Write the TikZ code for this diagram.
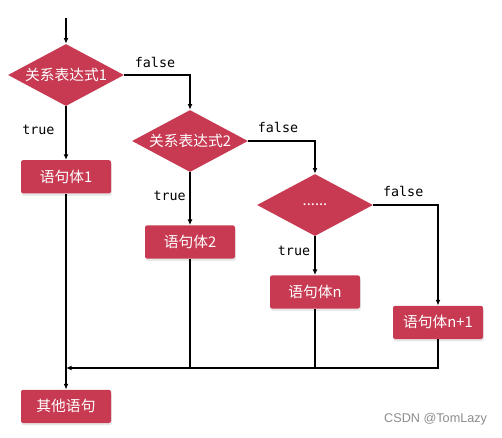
\documentclass[tikz,border=0pt]{standalone}
\usepackage{fontspec}
\setsansfont{Liberation Sans}
\setmonofont{DejaVu Sans Mono}
\newfontfamily\cjkfont{Noto Sans CJK SC}
\usepackage{tikz}
\usetikzlibrary{arrows.meta,positioning,shapes.geometric,shadows}
\definecolor{boxred}{HTML}{C73A52}

\begin{document}
\begin{tikzpicture}[
    font=\cjkfont\fontsize{10.5}{12}\selectfont,
    cond/.style={diamond, fill=boxred, text=white, aspect=1.9, inner sep=0pt,
                 minimum width=29mm, minimum height=15.5mm},
    stmt/.style={fill=boxred, text=white, rounded corners=1.5pt,
                 minimum width=22.5mm, minimum height=8.3mm,
                 drop shadow={shadow xshift=0.2mm, shadow yshift=-0.6mm, opacity=0.18}},
    lbl/.style={font=\ttfamily\fontsize{9.5}{11}\selectfont, inner sep=1pt},
    flow/.style={draw, -{Latex[length=1.4mm,width=1.2mm]}, line width=0.35mm},
    merger/.style={draw, line width=0.35mm}]

  \useasboundingbox (0mm,0mm) rectangle (125.5mm,-109.25mm);

  \coordinate (start) at (16.5mm,-4.5mm);
  \node[cond] (d1) at (16.5mm,-18.75mm) {关系表达式1};
  \node[cond] (d2) at (47.5mm,-35.25mm) {关系表达式2};
  \node[cond] (d3) at (78.75mm,-51.25mm) {......};

  \node[stmt, below=13.4mm of d1] (s1) {语句体1};
  \node[stmt, below=13.2mm of d2] (s2) {语句体2};
  \node[stmt, below=9.7mm of d3] (sn) {语句体n};
  \node[stmt] (sn1) at (109.5mm,-80.6mm) {语句体n+1};
  \node[stmt] (other) at (16.5mm,-101.6mm) {其他语句};

  \node[lbl] (f1) at (38.75mm,-15.5mm) {false};
  \node[lbl] (f2) at (69.5mm,-31.8mm) {false};
  \node[lbl] (f3) at (100.8mm,-47.8mm) {false};
  \node[lbl] (t1) at (9.6mm,-32.5mm) {true};
  \node[lbl] (t2) at (42.4mm,-49mm) {true};
  \node[lbl] (t3) at (73.5mm,-62.8mm) {true};

  \coordinate (merge) at (16.5mm,-92mm);

  \draw[flow] (start) -- (d1.north);
  \draw[flow] (d1) -- (s1);
  \draw[flow] (d1.east) -| (d2.north);
  \draw[flow] (d2) -- (s2);
  \draw[flow] (d2.east) -| (d3.north);
  \draw[flow] (d3) -- (sn);
  \draw[flow] (d3.east) -| (sn1.north);

  \draw[flow] (s1.south) -- (other.north);
  \draw[flow] (sn1.south) |- (merge);
  \foreach \b in {s2, sn}
    \draw[merger] (\b.south) -- (\b.south |- merge);

  \node[font=\sffamily\fontsize{9}{10}\selectfont, text=black!45, anchor=east] (mark)
    at (123mm,-104.8mm) {CSDN @TomLazy};
\end{tikzpicture}
\end{document}
